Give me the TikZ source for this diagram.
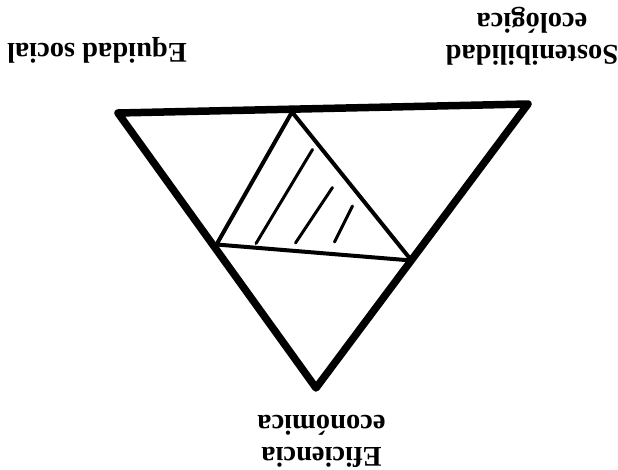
\documentclass[tikz,border=0pt]{standalone}
\usepackage{fontspec}
\setmainfont{Liberation Serif}
\begin{document}
\begin{tikzpicture}[x=1pt,y=-1pt,
  outer/.style={line width=7.5pt,line join=round,line cap=round},
  inner/.style={line width=4pt,line join=round,line cap=round},
  hatch/.style={line width=3pt,line cap=round},
  lbl/.style={rotate=180,anchor=base,align=center,inner sep=0pt,font=\fontsize{28.5}{32}\selectfont\bfseries}]
\useasboundingbox (0,0) rectangle (618,469);
% outer triangle
\coordinate (A) at (118,113);
\coordinate (B) at (528,104);
\coordinate (C) at (316,388);
% inner triangle
\coordinate (P) at (292,112);
\coordinate (Q) at (216.5,244.5);
\coordinate (R) at (411.5,260.5);
% hatching
\coordinate (h1a) at (312.5,149.5);
\coordinate (h1b) at (256,243.5);
\coordinate (h2a) at (332.5,187.5);
\coordinate (h2b) at (295.5,243);
\coordinate (h3a) at (352.5,206);
\coordinate (h3b) at (334.5,242);
\draw[inner] (P) -- (Q) -- (R) -- cycle;
\draw[hatch] (h1a) -- (h1b);
\draw[hatch] (h2a) -- (h2b);
\draw[hatch] (h3a) -- (h3b);
\draw[outer] (A) -- (B) -- (C) -- cycle;
% labels (upside down); anchor=base is the last line's baseline
\node[lbl] (eq) at (97,43) {Equidad social};
\node[lbl] (so) at (532,13) {Sostenibilidad\\ecológica};
\node[lbl] (ef) at (321.5,415) {Eficiencia\\económica};
\end{tikzpicture}
\end{document}
